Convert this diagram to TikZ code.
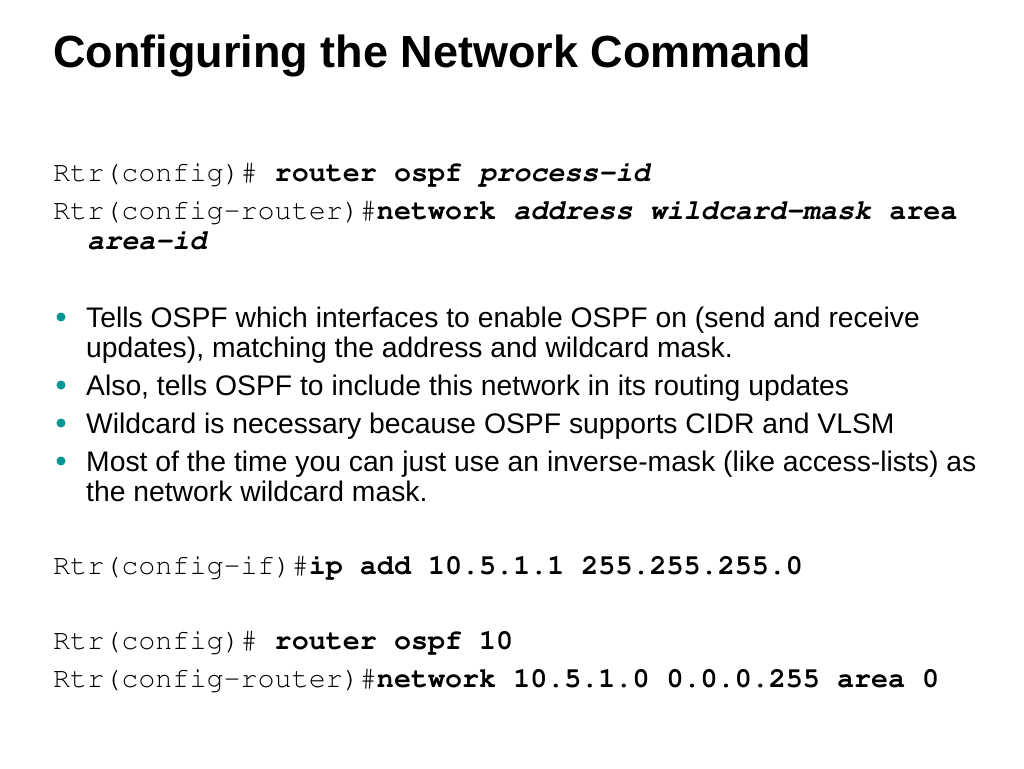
\documentclass[tikz,border=0pt]{standalone}
\usepackage{fontspec}
\setmainfont{Liberation Sans}
\newcommand\codefont{\fontencoding{T1}\fontfamily{pcr}\selectfont}
\usepackage{tikz}
\definecolor{bullteal}{RGB}{0,150,150}

\begin{document}
\begin{tikzpicture}[x=1pt,y=-1pt,
    title line/.style={anchor=base west,inner sep=0pt,font=\fontsize{45}{50}\selectfont\bfseries},
    code line/.style={anchor=base west,inner sep=0pt,font=\codefont\fontsize{28.4}{30}\selectfont},
    body line/.style={anchor=base west,inner sep=0pt,font=\fontsize{28.3}{30}\selectfont},
    bull/.style={circle,fill=bullteal,inner sep=0pt,minimum size=9pt}]

  \useasboundingbox[fill=white] (0,0) rectangle (1024,768);

  \node[title line] (title) at (53,67) {Configuring the Network Command};

  \node[code line] (c1) at (53,181) {Rtr(config)\# \textbf{router ospf \textit{process-id}}};
  \node[code line] (c2) at (53,219) {Rtr(config-router)\#\textbf{network \textit{address wildcard-mask} area}};
  \node[code line] (c3) at (87,249) {\textbf{\textit{area-id}}};

  \node[bull] (b1) at (61,317) {};
  \node[body line] (t1) at (86,327) {Tells OSPF which interfaces to enable OSPF on (send and receive};
  \node[body line] (t1b) at (86,357) {updates), matching the address and wildcard mask.};
  \node[bull] (b2) at (61,385) {};
  \node[body line] (t2) at (86,395) {Also, tells OSPF to include this network in its routing updates};
  \node[bull] (b3) at (61,423) {};
  \node[body line] (t3) at (86,433) {Wildcard is necessary because OSPF supports CIDR and VLSM};
  \node[bull] (b4) at (61,461) {};
  \node[body line] (t4) at (86,471) {Most of the time you can just use an inverse-mask (like access-lists) as};
  \node[body line] (t4b) at (86,501) {the network wildcard mask.};

  \node[code line] (c4) at (53,574) {Rtr(config-if)\#\textbf{ip add 10.5.1.1 255.255.255.0}};
  \node[code line] (c5) at (53,649) {Rtr(config)\# \textbf{router ospf 10}};
  \node[code line] (c6) at (53,687) {Rtr(config-router)\#\textbf{network 10.5.1.0 0.0.0.255 area 0}};
\end{tikzpicture}
\end{document}
